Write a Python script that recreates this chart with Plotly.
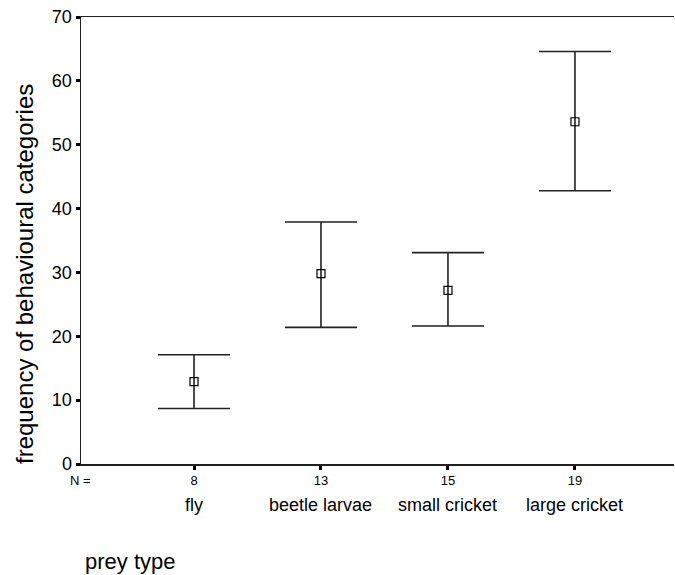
import plotly.graph_objects as go

categories = ["fly", "beetle larvae", "small cricket", "large cricket"]
n_values = ["8", "13", "15", "19"]
means = [12.9, 29.8, 27.2, 53.6]
upper = [17.1, 37.9, 33.1, 64.6]
lower = [8.7, 21.4, 21.6, 42.8]
y_ticks = [0, 10, 20, 30, 40, 50, 60, 70]

xpos = list(range(1, len(categories) + 1))
err_plus = [u - m for u, m in zip(upper, means)]
err_minus = [m - l for m, l in zip(means, lower)]

FONT = "Liberation Sans, Arial, Helvetica, sans-serif"
LINE = "#222222"

W, H = 675, 575
PL, PR, PT, PB = 81, 674, 17, 464   # plot area in window pixels
PW, PH = PR - PL, PB - PT

fig = go.Figure()
fig.add_trace(go.Scatter(
    x=xpos, y=means, mode="markers",
    marker=dict(symbol="square-open", size=8, color="black", line=dict(width=1.2, color="black")),
    error_y=dict(type="data", symmetric=False, array=err_plus, arrayminus=err_minus,
                 width=36, thickness=1.6, color=LINE),
    showlegend=False, hoverinfo="skip",
))

annotations = []
for xp, cat in zip(xpos, categories):
    annotations.append(dict(x=xp, y=0, xref="x", yref="paper", yshift=-(505 - PB), text=cat,
                            showarrow=False, font=dict(family=FONT, size=18, color="black"),
                            xanchor="center", yanchor="middle"))
annotations.append(dict(x=(93 - PL) / PW, y=0, yshift=-(480 - PB), xref="paper", yref="paper",
                        text="N =", showarrow=False, xanchor="right", yanchor="middle",
                        font=dict(family=FONT, size=13, color="black")))
annotations.append(dict(x=(83 - PL) / PW, y=0, xref="paper", yref="paper", yshift=-(561 - PB),
                        text="prey type", showarrow=False, xanchor="left", yanchor="middle",
                        font=dict(family=FONT, size=22, color="black")))
annotations.append(dict(x=(24 - PL) / PW, y=(PB - 274) / PH, xref="paper", yref="paper",
                        text="frequency of behavioural categories", textangle=-90, showarrow=False,
                        xanchor="center", yanchor="middle",
                        font=dict(family=FONT, size=24, color="black")))

fig.update_layout(
    width=W, height=H,
    margin=dict(l=PL, r=W - PR, t=PT, b=H - PB),
    paper_bgcolor="white", plot_bgcolor="white",
    font=dict(family=FONT, color="black"),
    annotations=annotations,
    xaxis=dict(range=[0.11, 4.78], tickvals=xpos, ticktext=n_values,
               tickfont=dict(family=FONT, size=13, color="black"),
               ticks="outside", ticklen=4, tickwidth=3, tickcolor="black",
               showline=True, linecolor=LINE, linewidth=1.5, mirror=True,
               showgrid=False, zeroline=False, fixedrange=True),
    yaxis=dict(range=[0, 70], tickvals=y_ticks,
               tickfont=dict(family=FONT, size=18, color="black"),
               ticks="outside", ticklen=4, tickwidth=3, tickcolor="black",
               showline=True, linecolor=LINE, linewidth=1.5, mirror=False,
               showgrid=False, zeroline=False, fixedrange=True),
)

fig.write_html("out.html", config={"displayModeBar": False, "staticPlot": True},
               post_script="document.body.style.margin='0px';document.body.style.overflow='hidden';")
